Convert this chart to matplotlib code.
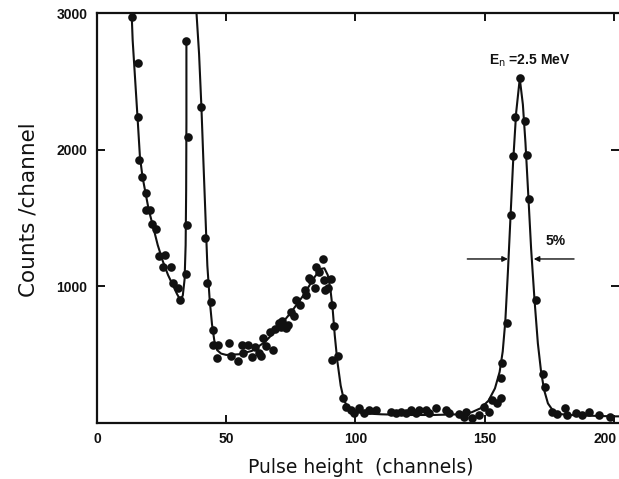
import matplotlib
matplotlib.use('Agg')
import matplotlib.pyplot as plt
from matplotlib.transforms import ScaledTranslation

# ─── measured points (pulse height channel, counts/channel) ──────────────────
points_x = [13.6, 15.7, 16.0, 16.4, 17.6, 18.8, 19.0, 20.6, 21.1, 23.0, 24.0,
            26.4, 25.6, 28.6, 29.5, 31.2, 32.0, 34.4, 34.9, 35.3, 34.6,
            40.4, 41.7, 42.6, 44.0, 44.7, 44.9, 46.8, 46.4, 51.1, 52.0, 54.6,
            56.3, 56.5, 58.4, 60.1, 61.0, 62.7, 63.6, 64.2, 65.5, 66.8, 68.3,
            68.7, 70.4, 71.3, 71.7, 73.2, 73.9, 75.2, 76.4, 77.1, 78.4, 80.3,
            81.0, 82.2, 82.9, 84.2, 84.6, 86.1, 87.4, 88.0, 88.4, 89.3, 90.6,
            90.8, 91.6, 90.8, 93.2, 95.1, 96.4, 98.3, 99.6, 101.5, 103.5,
            105.4, 108.0, 113.8, 115.7, 117.6, 119.6, 121.5, 123.4, 124.7,
            127.3, 128.6, 131.2, 135.0, 136.3, 140.2, 142.1, 142.7, 145.3,
            147.9, 149.8, 151.7, 153.0, 154.9, 156.5, 156.2, 156.9, 158.6,
            160.1, 161.0, 161.8, 163.6, 165.6, 166.5, 167.2, 170.0, 172.4,
            173.3, 176.2, 178.1, 181.1, 182.0, 185.2, 187.8, 190.3, 194.2,
            198.7]
points_y = [2973, 2631, 2240, 1920, 1800, 1680, 1557, 1557, 1456, 1420, 1222,
            1224, 1140, 1140, 1022, 985, 900, 1088, 1447, 2094, 2795,
            2313, 1349, 1024, 885, 678, 568, 568, 470, 585, 487, 453,
            568, 507, 568, 482, 551, 507, 487, 617, 560, 665, 531,
            683, 731, 702, 746, 690, 714, 812, 780, 897, 861, 971,
            934, 1056, 1044, 983, 1141, 1105, 1196, 1044, 971, 983, 1049,
            861, 707, 458, 488, 183, 116, 90, 67, 104, 67,
            92, 92, 79, 67, 79, 72, 92, 72, 92,
            92, 67, 104, 92, 67, 62, 42, 75, 31,
            55, 116, 79, 165, 140, 177, 324, 434, 728,
            1517, 1952, 2240, 2522, 2209, 1960, 1635, 897, 358,
            262, 79, 62, 104, 55, 72, 55, 79, 55,
            42]

# ─── hand-drawn fit curve (two pieces) ───────────────────────────────────────
curve_a_x = [13.4, 13.8, 14.8, 15.8, 16.6, 17.6, 18.8, 20.0, 21.5, 23.5, 25.5,
             27.5, 29.5, 31.0, 32.2, 33.2, 33.9, 34.3, 34.5, 34.6, 34.6]
curve_a_y = [3000, 2800, 2500, 2200, 1950, 1800, 1680, 1560, 1450, 1300, 1180,
             1080, 1000, 940, 900, 930, 1050, 1300, 1700, 2200, 2795]

curve_b_x = [38.5, 39.5, 40.4, 41.2, 41.9, 42.7, 43.6, 44.5, 45.4, 46.5, 48.0,
             50.0, 55.0, 60.0, 65.0, 70.0, 75.0, 80.0, 84.0, 86.5, 88.0, 89.3,
             90.3, 91.2, 92.0, 93.0, 94.3, 95.6, 97.5, 100.0, 105.0, 110.0,
             120.0, 130.0, 140.0, 145.0, 148.5, 151.5, 154.0, 155.8, 157.0,
             158.0, 159.0, 160.0, 161.0, 162.2, 163.6, 164.8, 165.8, 166.8,
             168.0, 169.3, 170.6, 171.8, 173.0, 174.5, 176.5, 179.0, 183.0,
             190.0, 200.0, 202.0]
curve_b_y = [3000, 2700, 2313, 1900, 1550, 1150, 900, 720, 600, 530, 505,
             495, 500, 525, 590, 690, 805, 935, 1060, 1125, 1130, 1080,
             980, 830, 640, 450, 270, 160, 100, 75, 65, 60,
             55, 55, 60, 75, 105, 160, 250, 370, 520,
             740, 1100, 1500, 1900, 2270, 2520, 2330, 2050, 1700,
             1270, 900, 580, 380, 240, 140, 85, 62, 55,
             50, 45, 45]

x_ticks = [0, 50, 100, 150, 200]
y_ticks = [1000, 2000, 3000]

INK = '#111111'
plt.rcParams['font.family'] = ['Liberation Sans', 'DejaVu Sans']

fig = plt.figure(figsize=(6.19, 4.79), dpi=100, facecolor='white')
ax = fig.add_axes([97 / 619, (479 - 422.5) / 479, 522 / 619, 409.5 / 479])

ax.plot(curve_a_x, curve_a_y, color=INK, lw=1.5, solid_capstyle='butt')
ax.plot(curve_b_x, curve_b_y, color=INK, lw=1.5, solid_capstyle='butt')
ax.plot(points_x, points_y, 'o', color=INK, ms=6.2, mec='none')

ax.set_xlim(0, 202)
ax.set_ylim(0, 3000)
ax.set_xticks(x_ticks)
ax.set_xticklabels([str(v) for v in x_ticks], fontsize=10, fontweight='bold')
ax.set_yticks(y_ticks)
ax.set_yticklabels([str(v) for v in y_ticks], fontsize=10, fontweight='bold')
ax.tick_params(direction='in', length=6, width=1.4, colors=INK,
               top=True, right=True, pad=7)

# last x label sits at the figure edge: nudge it inwards so it stays whole
last = ax.get_xticklabels()[-1]
last.set_transform(last.get_transform() + ScaledTranslation(-6 / 72, 0, fig.dpi_scale_trans))

for side in ['left', 'bottom', 'top']:
    ax.spines[side].set_linewidth(1.6)
    ax.spines[side].set_color(INK)
ax.spines['right'].set_visible(False)

ax.set_xlabel('Pulse height  (channels)', fontsize=13.5, color=INK,
              family='DejaVu Sans')
ax.xaxis.set_label_coords(0.505, -0.086)
ax.set_ylabel('Counts /channel', fontsize=15.5, color=INK, family='DejaVu Sans')
ax.yaxis.set_label_coords(-0.113, 0.52)

# annotation of the neutron peak and its width
ax.text(167.6, 2650, r'E$_\mathrm{n}$ =2.5 MeV', ha='center', va='center',
        fontsize=10, fontweight='bold', color=INK)
ax.text(177.5, 1330, '5%', ha='center', va='center', fontsize=10,
        fontweight='bold', color=INK)
ax.annotate('', xy=(159.0, 1198), xytext=(143.3, 1198),
            arrowprops=dict(arrowstyle='-|>', color=INK, lw=1.0,
                            mutation_scale=8, shrinkA=0, shrinkB=0))
ax.annotate('', xy=(169.0, 1198), xytext=(184.6, 1198),
            arrowprops=dict(arrowstyle='-|>', color=INK, lw=1.0,
                            mutation_scale=8, shrinkA=0, shrinkB=0))

fig.savefig('out.png', dpi=100, facecolor='white')
